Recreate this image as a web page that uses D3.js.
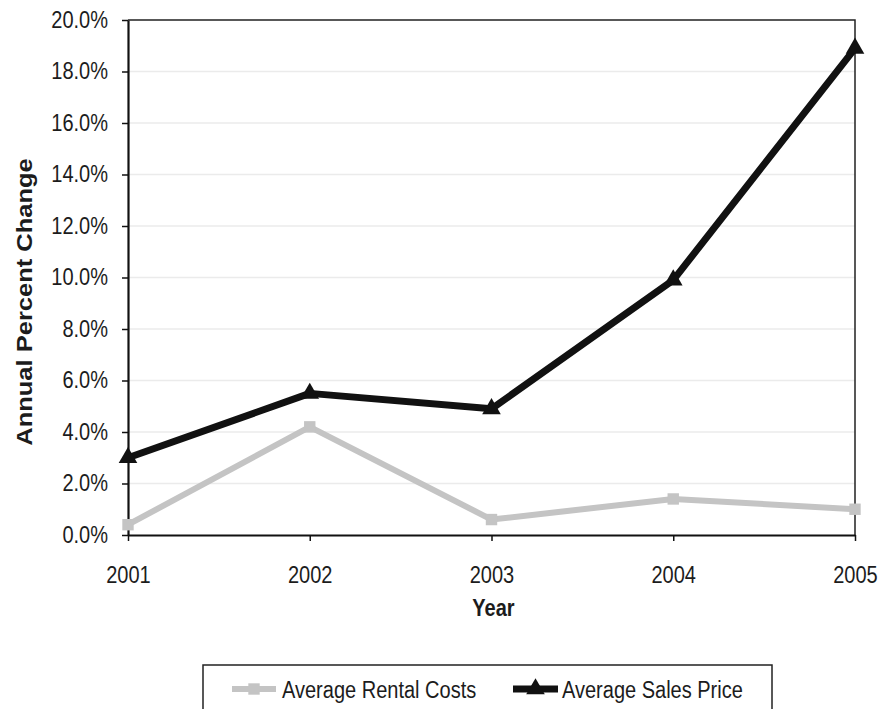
<!DOCTYPE html>
<html>
<head>
<meta charset="utf-8">
<script src="https://cdn.jsdelivr.net/npm/d3@7"></script>
<style>
  body { margin: 0; background: #fff; }
  svg { display: block; }
  text { font-family: "Liberation Sans", Arial, sans-serif; fill: #1c1c1c; }
</style>
</head>
<body>
<svg id="chart" width="883" height="709"></svg>
<script>
// Annual percent change, 2001–2005
const years = ["2001", "2002", "2003", "2004", "2005"];
const rentalCosts = [0.4, 4.2, 0.6, 1.4, 1.0];
const salesPrice = [3.0, 5.5, 4.9, 9.9, 18.9];
const yTickValues = [0, 2, 4, 6, 8, 10, 12, 14, 16, 18, 20];
const seriesNames = ["Average Rental Costs", "Average Sales Price"];

const plot = { left: 128, right: 855, top: 20, bottom: 535 };
const narrow = 0.87;           // condensed text width
const rentalColor = "#c4c4c4";
const salesColor = "#111";

const svg = d3.select("#chart");
const x = d3.scalePoint().domain(years).range([plot.left, plot.right]);
const y = d3.scaleLinear().domain([0, 20]).range([plot.bottom, plot.top]);

// faint horizontal gridlines
svg.append("g")
  .selectAll("line")
  .data(yTickValues.filter(v => v > 0 && v < 20))
  .join("line")
  .attr("x1", plot.left).attr("x2", plot.right)
  .attr("y1", d => y(d)).attr("y2", d => y(d))
  .attr("stroke", "#ebebeb").attr("stroke-width", 1.5);

// top and right edges of the plot frame
svg.append("path")
  .attr("d", `M${plot.left},${plot.top}H${plot.right}V${plot.bottom}`)
  .attr("fill", "none").attr("stroke", "#222").attr("stroke-width", 1.5);

// y axis
const yAxis = svg.append("g")
  .attr("transform", `translate(${plot.left},0)`)
  .call(d3.axisLeft(y).tickValues(yTickValues)
    .tickFormat(d => d.toFixed(1) + "%").tickSize(6).tickSizeOuter(0));
yAxis.select(".domain").attr("stroke", "#111").attr("stroke-width", 2.2);
yAxis.selectAll(".tick line").attr("stroke", "#111").attr("stroke-width", 1.5);
yAxis.selectAll("text")
  .attr("x", -20 / narrow)
  .attr("transform", `scale(${narrow},1)`)
  .style("font-size", "23px").attr("fill", "#1c1c1c");

// x axis
const xAxis = svg.append("g")
  .attr("transform", `translate(0,${plot.bottom})`)
  .call(d3.axisBottom(x).tickSize(6).tickSizeOuter(0));
xAxis.select(".domain").attr("stroke", "#111").attr("stroke-width", 2.2);
xAxis.selectAll(".tick line").attr("stroke", "#111").attr("stroke-width", 1.5);
xAxis.selectAll("text")
  .attr("y", 48).attr("dy", 0)
  .attr("transform", `scale(${narrow},1)`)
  .style("font-size", "23px").attr("fill", "#1c1c1c");

// axis titles
svg.append("text")
  .attr("transform", `translate(${(plot.left + plot.right) / 2 + 2},616) scale(${narrow},1)`)
  .attr("text-anchor", "middle")
  .style("font-size", "23px").style("font-weight", "bold")
  .text("Year");

svg.append("text")
  .attr("transform", `translate(32,302) scale(${narrow},1) rotate(-90)`)
  .attr("text-anchor", "middle")
  .style("font-size", "25.5px").style("font-weight", "bold")
  .text("Annual Percent Change");

// series lines and markers
const line = d3.line()
  .x((d, i) => x(years[i]))
  .y(d => y(d));

svg.append("path").datum(rentalCosts)
  .attr("d", line).attr("fill", "none")
  .attr("stroke", rentalColor).attr("stroke-width", 6)
  .attr("stroke-linejoin", "round");
svg.append("g").selectAll("path").data(rentalCosts).join("path")
  .attr("transform", (d, i) => `translate(${x(years[i])},${y(d)})`)
  .attr("d", d3.symbol(d3.symbolSquare, 130))
  .attr("fill", rentalColor);

svg.append("path").datum(salesPrice)
  .attr("d", line).attr("fill", "none")
  .attr("stroke", salesColor).attr("stroke-width", 7)
  .attr("stroke-linejoin", "round");
svg.append("g").selectAll("path").data(salesPrice).join("path")
  .attr("transform", (d, i) => `translate(${x(years[i])},${y(d)})`)
  .attr("d", d3.symbol(d3.symbolTriangle, 150))
  .attr("fill", salesColor);

// legend
const legend = svg.append("g");
legend.append("rect")
  .attr("x", 203).attr("y", 665).attr("width", 569).attr("height", 60)
  .attr("fill", "#fff").attr("stroke", "#222").attr("stroke-width", 1.5);

const legendItems = [
  { name: seriesNames[0], color: rentalColor, width: 6, symbol: d3.symbolSquare, size: 130, x0: 232, x1: 276, tx: 282 },
  { name: seriesNames[1], color: salesColor, width: 7, symbol: d3.symbolTriangle, size: 150, x0: 513, x1: 558, tx: 562 }
];
legendItems.forEach(item => {
  legend.append("line")
    .attr("x1", item.x0).attr("x2", item.x1).attr("y1", 689).attr("y2", 689)
    .attr("stroke", item.color).attr("stroke-width", item.width);
  legend.append("path")
    .attr("transform", `translate(${(item.x0 + item.x1) / 2},689)`)
    .attr("d", d3.symbol(item.symbol, item.size))
    .attr("fill", item.color);
  legend.append("text")
    .attr("transform", `translate(${item.tx},698) scale(${narrow},1)`)
    .style("font-size", "23px")
    .text(item.name);
});
</script>
</body>
</html>
